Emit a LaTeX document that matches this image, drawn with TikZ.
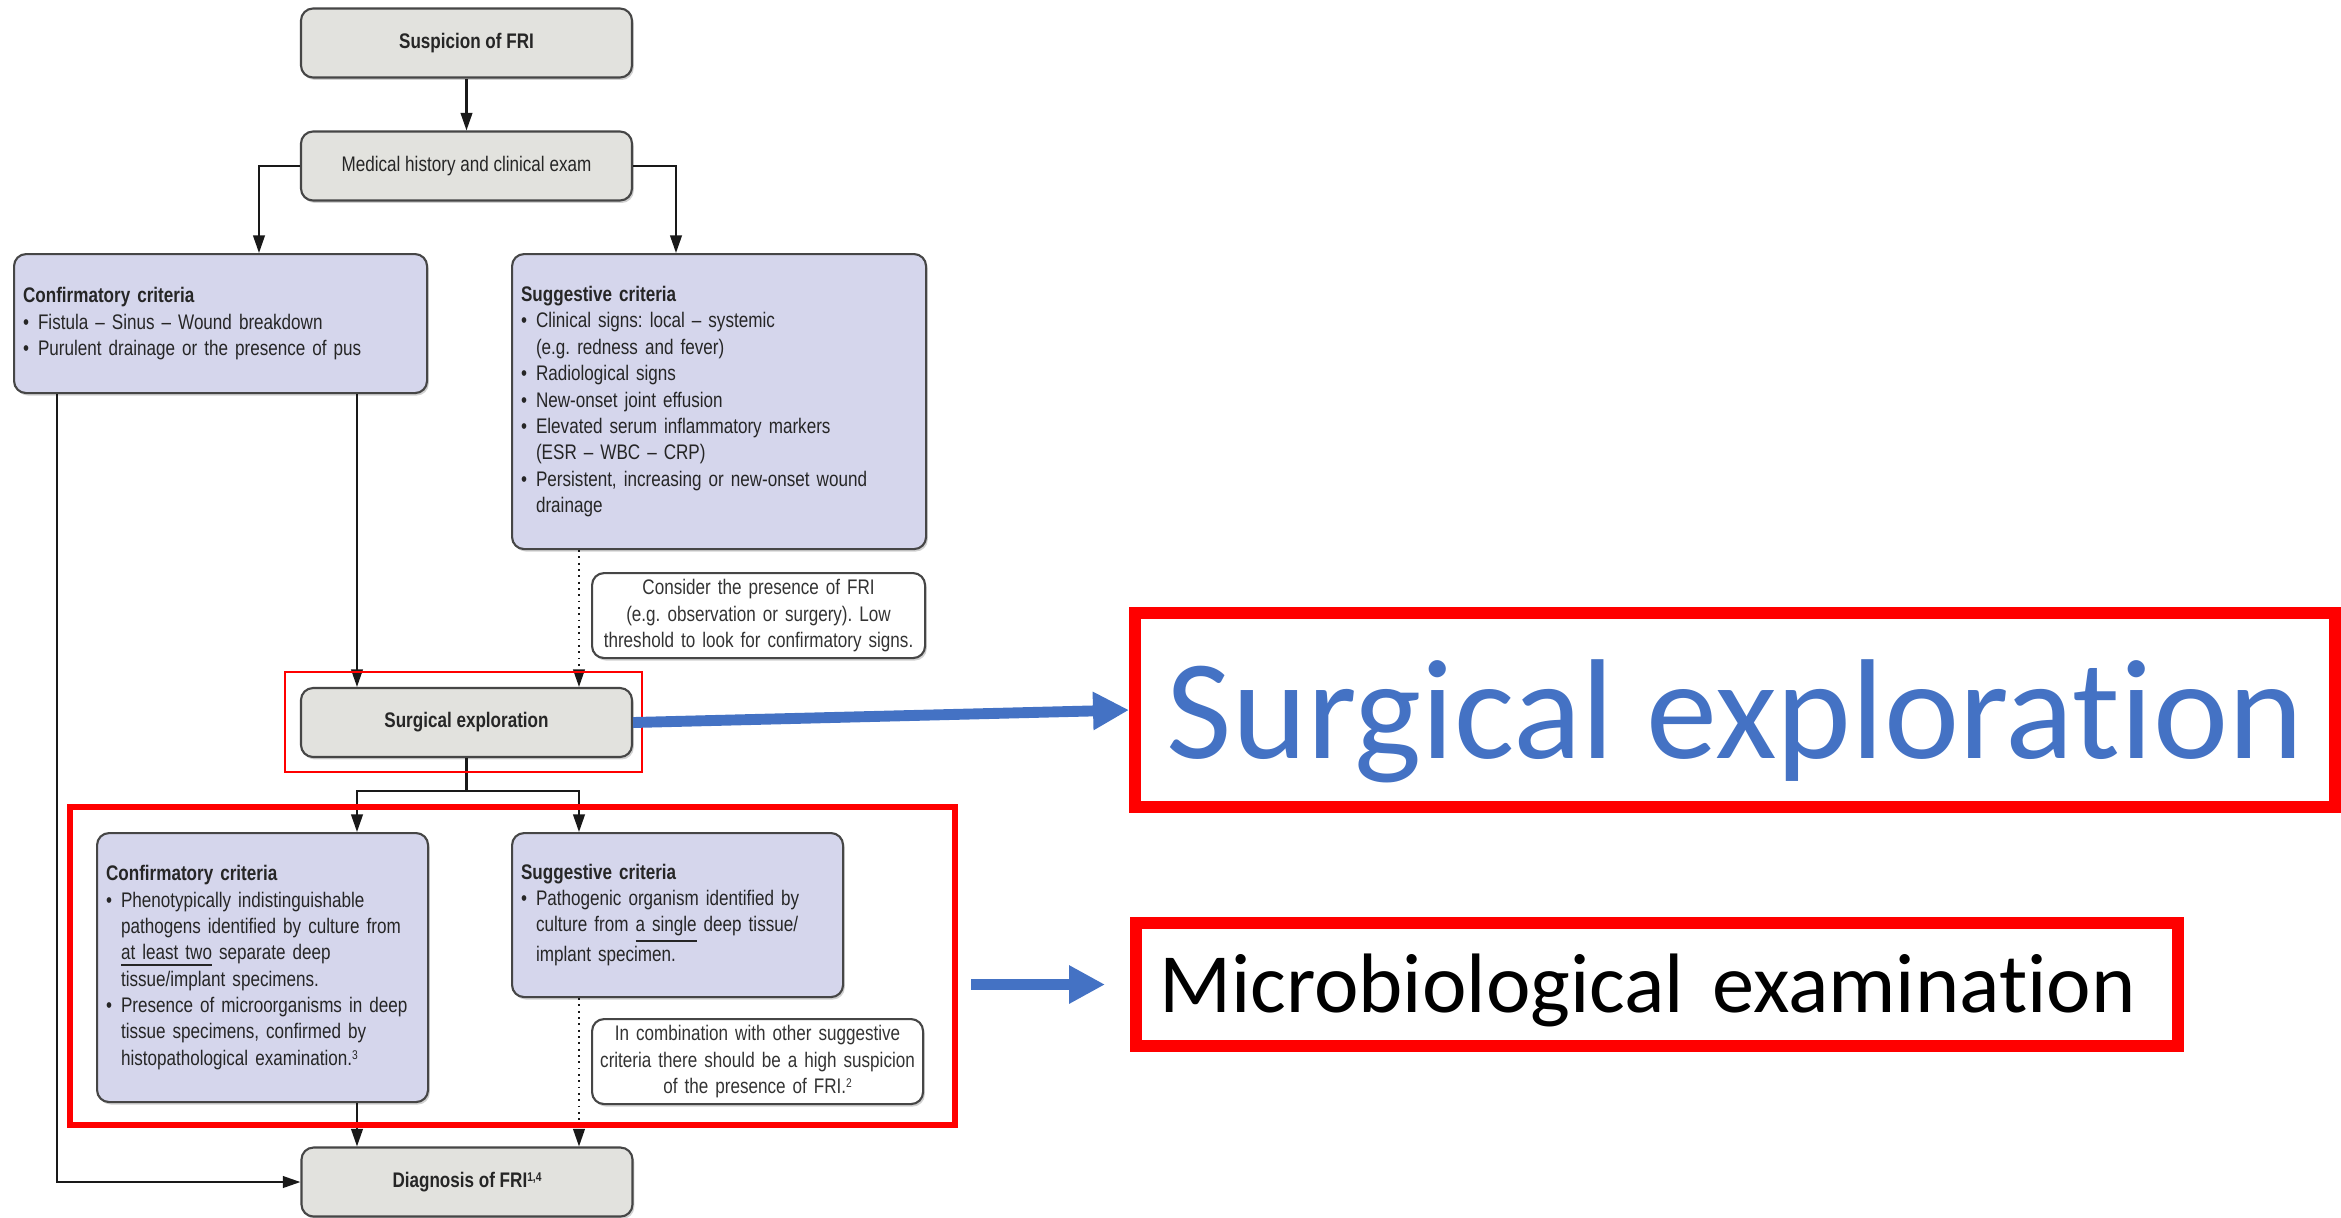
\documentclass[tikz,border=0pt]{standalone}
\usepackage{fontspec}
\setmainfont{Liberation Sans}
\newfontfamily\chartfont[FakeStretch=0.81, Ligatures=TeX]{Liberation Sans}
\newfontfamily\slidefont[RawFeature={-liga;-clig;-calt;-dlig}]{Carlito}
\usetikzlibrary{arrows.meta, positioning, calc, shadows}
\frenchspacing

\definecolor{boxgrey}{RGB}{226,226,222}
\definecolor{critlav}{RGB}{213,214,236}
\definecolor{boxline}{RGB}{70,70,70}
\definecolor{markred}{RGB}{255,0,0}
\definecolor{slideblue}{RGB}{68,114,196}

\newcommand{\critem}[1]{\par\hangindent=0.15cm\hangafter=1\noindent\makebox[0.15cm][l]{\textbullet}#1\par}
\newcommand{\refsup}[1]{\raisebox{0.55ex}{\fontsize{3.6pt}{4pt}\selectfont #1}}

\tikzset{
  boxshade/.style={drop shadow={shadow xshift=0.5pt, shadow yshift=-0.7pt, fill=black, opacity=0.18}},
  stepbox/.style={draw=boxline, fill=boxgrey, rounded corners=0.12cm, line width=0.6pt, boxshade,
    minimum width=3.31cm, minimum height=0.69cm, inner sep=0pt, text=black!85},
  critbox/.style={draw=boxline, fill=critlav, rounded corners=0.12cm, line width=0.6pt, boxshade,
    anchor=north west, align=left, inner xsep=0.09cm, inner ysep=0pt, text=black!85,
    font=\chartfont\fontsize{6pt}{7.5pt}\selectfont},
  notebox/.style={draw=boxline, fill=white, rounded corners=0.12cm, line width=0.6pt, boxshade,
    anchor=north west, align=center, inner xsep=0.05cm, inner ysep=0pt, text=black!80,
    font=\chartfont\fontsize{6pt}{7.5pt}\selectfont},
  flowarr/.style={draw=black!90, line width=0.6pt, -{Triangle[length=5pt, width=3.3pt]}},
  dotarr/.style={flowarr, dash pattern=on 0.5pt off 1.3pt},
  redmark/.style={draw=markred, inner sep=0pt},
  bluearr/.style={draw=slideblue, line width=3.1pt, -{Triangle[length=0.36cm, width=0.36cm]}}
}

\begin{document}
\begin{tikzpicture}
  \useasboundingbox[fill=white] (0,0) rectangle (23.41,-12.17);

  % Columns of the connectors
  \coordinate (colO) at (0.57,0);
  \coordinate (colA) at (2.59,0);
  \coordinate (colL) at (3.57,0);
  \coordinate (colR) at (5.79,0);
  \coordinate (colB) at (6.76,0);

  % Start
  \node[stepbox, font=\chartfont\fontsize{6pt}{7.5pt}\selectfont\bfseries] (susp) at (4.665,-0.43) {Suspicion of FRI};
  \node[stepbox, font=\chartfont\fontsize{6pt}{7.5pt}\selectfont] (hist) at (4.665,-1.66) {Medical history and clinical exam};

  % Clinical criteria
  \node[critbox, text width=3.95cm, minimum height=1.39cm] (conf1) at (0.13,-2.53) {
    {\bfseries Confirmatory criteria}
    \critem{Fistula -- Sinus -- Wound breakdown}
    \critem{Purulent drainage or the presence of pus}
  };
  \node[critbox, text width=3.96cm, minimum height=2.95cm] (sugg1) at (5.11,-2.53) {
    {\bfseries Suggestive criteria}
    \critem{Clinical signs: local -- systemic\newline(e.g. redness and fever)}
    \critem{Radiological signs}
    \critem{New-onset joint effusion}
    \critem{Elevated serum inflammatory markers\newline(ESR -- WBC -- CRP)}
    \critem{Persistent, increasing or new-onset wound\newline drainage}
  };
  \node[notebox, text width=3.23cm, minimum height=0.85cm] (note1) at (5.91,-5.72) {
    Consider the presence of FRI\\(e.g. observation or surgery). Low\\threshold to look for confirmatory signs.
  };

  \node[stepbox, font=\chartfont\fontsize{6pt}{7.5pt}\selectfont\bfseries] (surg) at (4.665,-7.225) {Surgical exploration};

  % Microbiology
  \node[critbox, text width=3.13cm, minimum height=2.69cm] (conf2) at (0.96,-8.32) {
    {\bfseries Confirmatory criteria}
    \critem{Phenotypically indistinguishable\newline pathogens identified by culture from\newline\underline{at least two} separate deep\newline tissue/implant specimens.}
    \critem{Presence of microorganisms in deep\newline tissue specimens, confirmed by\newline histopathological examination.\refsup{3}}
  };
  \node[critbox, text width=3.13cm, minimum height=1.64cm] (sugg2) at (5.11,-8.32) {
    {\bfseries Suggestive criteria}
    \critem{Pathogenic organism identified by\newline culture from \underline{a single} deep tissue/\newline implant specimen.}
  };
  \node[notebox, text width=3.21cm, minimum height=0.85cm] (note2) at (5.91,-10.18) {
    In combination with other suggestive\\criteria there should be a high suspicion\\of the presence of FRI.\refsup{2}
  };

  \node[stepbox, font=\chartfont\fontsize{6pt}{7.5pt}\selectfont\bfseries] (diag) at (4.67,-11.82) {Diagnosis of FRI\refsup{1,4}};

  % Connectors
  \draw[flowarr] (susp) -- (hist);
  \draw[flowarr] (hist.west) -| (conf1.north -| colA);
  \draw[flowarr] (hist.east) -| (sugg1.north -| colB);
  \draw[flowarr] (conf1.south -| colL) -- (surg.north -| colL);
  \draw[dotarr] (sugg1.south -| colR) -- (surg.north -| colR);
  \draw[flowarr] (conf1.south -| colO) |- (diag.west);
  \draw[draw=black!90, line width=0.6pt] (surg.south) -- ++(0,-0.33) coordinate (split);
  \draw[flowarr] (split) -| (conf2.north -| colL);
  \draw[flowarr] (split) -| (sugg2.north -| colR);
  \draw[flowarr] (conf2.south -| colL) -- (diag.north -| colL);
  \draw[dotarr] (sugg2.south -| colR) -- (diag.north -| colR);

  % Red marks
  \node[redmark, line width=0.6pt, minimum width=3.57cm, minimum height=1.0cm] (frsurg) at (4.635,-7.22) {};
  \node[redmark, line width=1.7pt, minimum width=8.85cm, minimum height=3.18cm] (frmicro) at (5.125,-9.66) {};

  % Slide labels
  \node[redmark, line width=3.4pt, minimum width=12.0cm, minimum height=1.94cm, text height=0.96cm, text depth=0cm,
    font=\slidefont\fontsize{40.5pt}{48pt}\selectfont, text=slideblue] (lblsurg) at (17.35,-7.10) {Surgical exploration};
  \node[redmark, line width=3.4pt, text width=9.96cm, inner xsep=0.23cm, minimum height=1.23cm, align=left,
    text height=0.55cm, text depth=0cm, font=\slidefont\fontsize{24pt}{29pt}\selectfont] (lblmicro) at (16.57,-9.845) {Microbiological examination};

  \draw[bluearr] (surg.east) -- (lblsurg.west);
  \draw[bluearr, shorten <=0.13cm, shorten >=0.25cm] (frmicro.east |- lblmicro.west) -- (lblmicro.west);
\end{tikzpicture}
\end{document}
